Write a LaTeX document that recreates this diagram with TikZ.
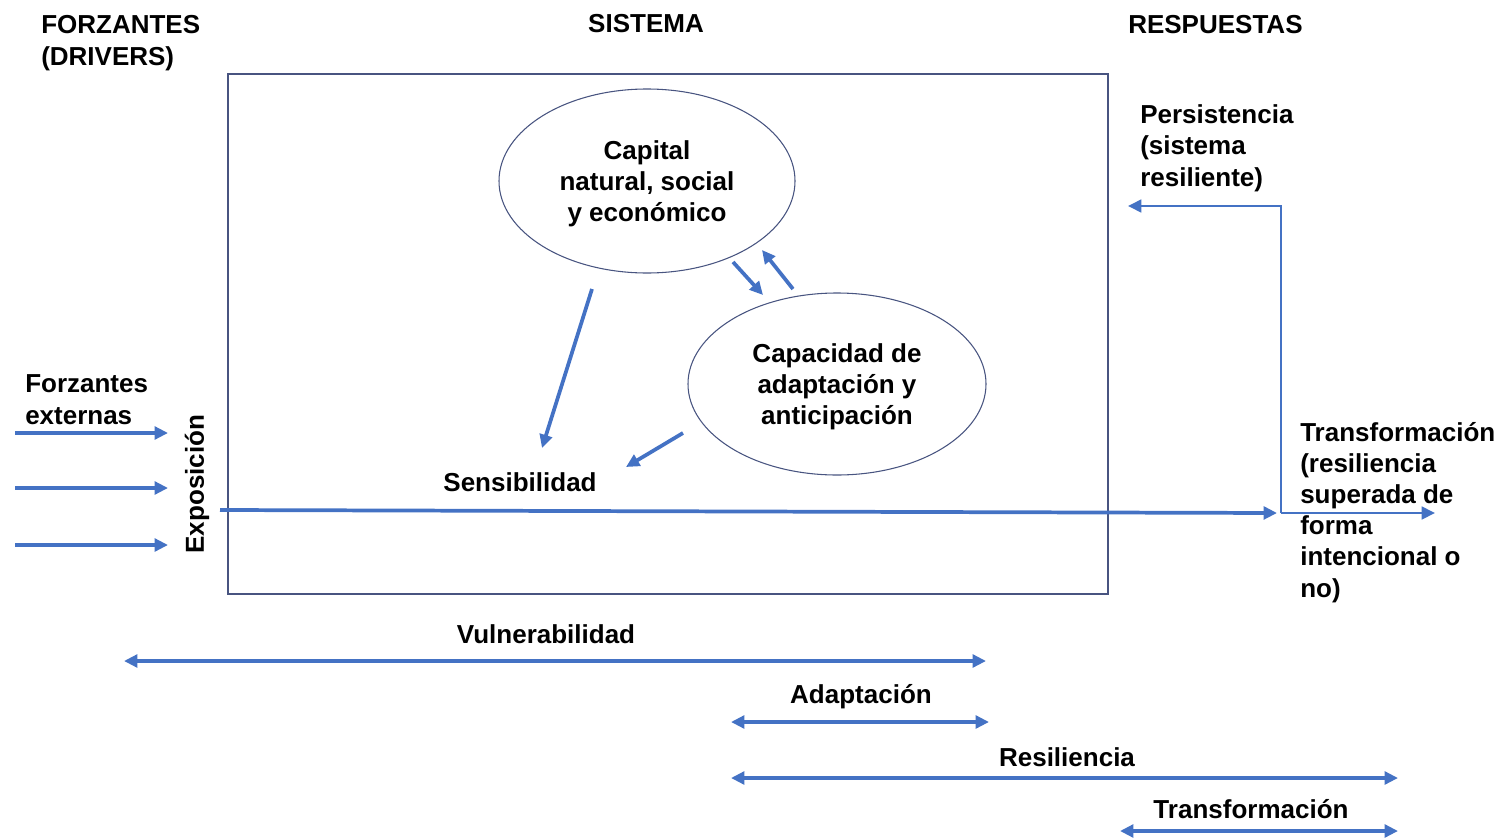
\documentclass[tikz,border=0pt]{standalone}
\usepackage{fontspec}
\setmainfont{Liberation Sans}
\usetikzlibrary{arrows.meta,shapes.geometric}
\definecolor{azul}{RGB}{68,114,196}
\definecolor{marco}{RGB}{72,84,128}
\tikzset{
	punta/.tip={Triangle[length=10pt,width=9.5pt]},
	flecha/.style={draw=azul,line width=2.8pt,-punta},
	doble/.style={draw=azul,line width=2.8pt,punta-punta},
	rotulo/.style={inner sep=0pt,font=\bfseries\fontsize{19.5}{23.3}\selectfont},
	elipse/.style={ellipse,draw=marco,line width=0.8pt,rotulo,align=center,text depth=0pt},
}
\begin{document}
\begin{tikzpicture}[x=0.75pt,y=0.75pt,yscale=-1,xscale=1]
	\useasboundingbox (0,0) rectangle (1503,839);
	\draw[marco,line width=1.4pt] (228,74) rectangle (1108,594);
	\node[rotulo,anchor=base west,align=left] (forzantes) at (41,65) {FORZANTES\\(DRIVERS)};
	\node[rotulo,anchor=base] (sistema) at (646,32) {SISTEMA};
	\node[rotulo,anchor=base west] (respuestas) at (1128,33) {RESPUESTAS};
	\node[elipse,minimum width=222pt,minimum height=138pt] (capital) at (647,181) {Capital\\natural, social\\y económico};
	\node[elipse,minimum width=223.5pt,minimum height=136.5pt] (capacidad) at (837,384) {Capacidad de\\adaptación y\\anticipación};
	\node[rotulo] (sensib) at (520,482) {Sensibilidad};
	\node[rotulo,anchor=base west,align=left] (persist) at (1140,186) {Persistencia\\(sistema\\resiliente)};
	\node[rotulo,anchor=base west,align=left] (transf) at (1300,597) {Transformación\\(resiliencia\\superada de\\forma\\intencional o\\no)};
	\node[rotulo,anchor=base west,align=left] (externas) at (25,424) {Forzantes\\externas};
	\node[rotulo,rotate=90] (expo) at (197,484) {Exposición};
	\node[rotulo] (vulner) at (546,634) {Vulnerabilidad};
	\node[rotulo] (adapt) at (861,697) {Adaptación};
	\node[rotulo] (resil) at (1067,757) {Resiliencia};
	\node[rotulo] (transfb) at (1251,809) {Transformación};
	\coordinate (cap-s) at (592,289);
	\coordinate (sen-a) at (542,448);
	\coordinate (ada-s) at (683,433);
	\coordinate (sen-b) at (626,467);
	\coordinate (cap-b) at (733,262);
	\coordinate (ada-a) at (763,295);
	\coordinate (ada-b) at (793,289);
	\coordinate (cap-a) at (762,250);
	\coordinate (expo-s) at (220,510);
	\coordinate (giro-a) at (1277,513);
	\coordinate (giro) at (1281,513);
	\coordinate (esquina) at (1281,206);
	\coordinate (pers-a) at (1128,206);
	\coordinate (trans-a) at (1435,513);
	\draw[flecha] (cap-s) -- (sen-a);
	\draw[flecha] (ada-s) -- (sen-b);
	\draw[flecha] (cap-b) -- (ada-a);
	\draw[flecha] (ada-b) -- (cap-a);
	\draw[flecha] (expo-s) -- (giro-a);
	\draw[flecha,line width=2pt] (giro) -- (esquina) -- (pers-a);
	\draw[flecha,line width=2pt] (giro) -- (trans-a);
	\foreach \y [count=\i] in {433,488,545} {
		\coordinate (forz\i-s) at (15,\y);
		\coordinate (forz\i-a) at (168,\y);
		\draw[flecha] (forz\i-s) -- (forz\i-a);
	}
	\coordinate (vul-l) at (124,661);
	\coordinate (vul-r) at (986,661);
	\coordinate (ada-l) at (731,722);
	\coordinate (ada-r) at (989,722);
	\coordinate (res-l) at (731,778);
	\coordinate (res-r) at (1398,778);
	\coordinate (tra-l) at (1120,831);
	\coordinate (tra-r) at (1398,831);
	\draw[doble] (vul-l) -- (vul-r);
	\draw[doble] (ada-l) -- (ada-r);
	\draw[doble] (res-l) -- (res-r);
	\draw[doble] (tra-l) -- (tra-r);
\end{tikzpicture}
\end{document}
